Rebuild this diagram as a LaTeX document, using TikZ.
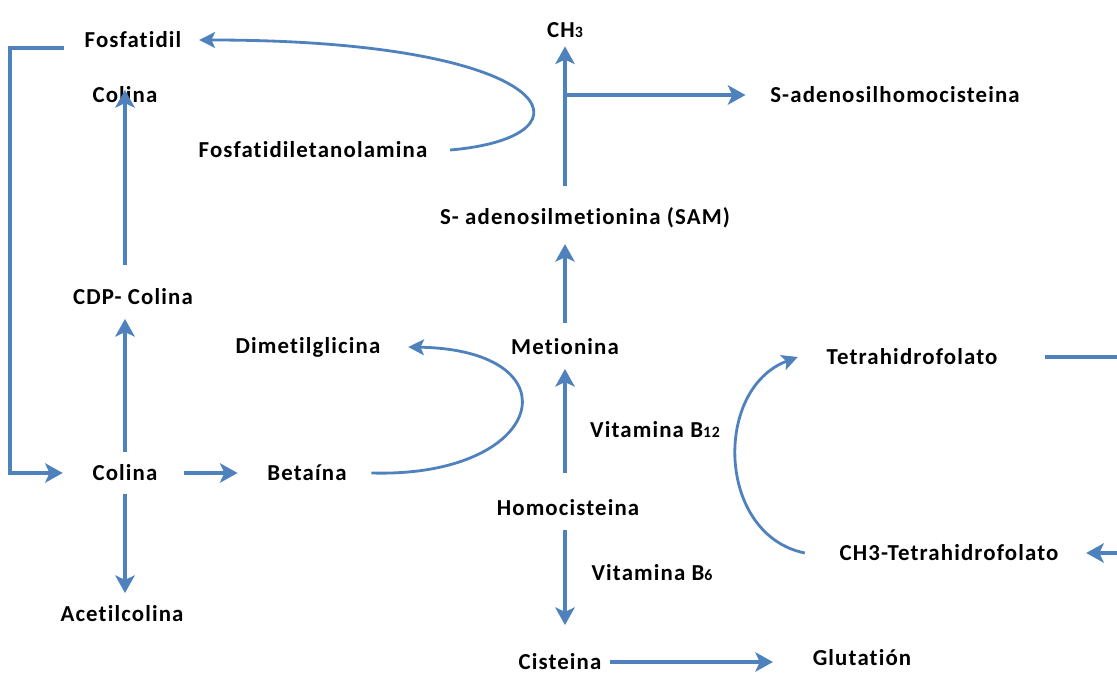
\documentclass[tikz,border=0pt]{standalone}
\usepackage{fontspec}
\setmainfont{Carlito}[LetterSpace=5, Ligatures=NoCommon]
\usetikzlibrary{arrows.meta}
\definecolor{flecha}{RGB}{79,129,189}
\newcommand{\peq}[1]{{\fontsize{9}{9}\selectfont #1}}

\begin{document}
\begin{tikzpicture}[x=0.02cm,y=-0.02cm,
  lbl/.style={font=\bfseries\fontsize{13}{15}\selectfont, inner sep=2pt},
  arr/.style={draw=flecha, line width=2.3pt, -{Stealth[length=10pt,width=11pt,inset=2.5pt]}},
  curva/.style={draw=flecha, line width=1.6pt, -{Stealth[length=9pt,width=9pt,inset=2pt]}}]
\useasboundingbox (0,0) rectangle (1117,675);

% izquierda
\node[lbl] (fosfatidil) at (133,40) {Fosfatidil};
\node[lbl] (colinaup) at (125,95) {Colina};
\node[lbl] (fosfetanol) at (313,150) {Fosfatidiletanolamina};
\node[lbl] (cdp) at (133,297) {CDP- Colina};
\node[lbl] (dmg) at (308,347) {Dimetilglicina};
\node[lbl] (colina) at (125,473) {Colina};
\node[lbl] (betaina) at (307,473) {Betaína};
\node[lbl] (acetil) at (122,614) {Acetilcolina};

% centro
\node[lbl] (chtres) at (565,30) {CH\peq{3}};
\node[lbl] (sah) at (895,95) {S-adenosilhomocisteina};
\node[lbl] (sam) at (585,218) {S- adenosilmetionina (SAM)};
\node[lbl] (met) at (565,347) {Metionina};
\node[lbl] (vitb12) at (655,430) {Vitamina B\peq{12}};
\node[lbl] (hcy) at (568,508) {Homocisteina};
\node[lbl] (vitb6) at (652,573) {Vitamina B\peq{6}};
\node[lbl] (cis) at (560,662) {Cisteina};
\node[lbl] (glut) at (862,658) {Glutatión};

% derecha
\node[lbl] (thf) at (912,357) {Tetrahidrofolato};
\node[lbl] (chthf) at (949,553) {CH3-Tetrahidrofolato};

\coordinate (esq) at (10,48);
\coordinate (borde) at (1117,0);

% flechas
\draw[arr, shorten <=0.34cm, shorten >=0.52cm] (esq -| fosfatidil.west) -- (esq) |- (colina.west);
\draw[arr, shorten <=0.18cm, shorten >=0.2cm] (colina.north) -- (colina.north |- cdp.south);
\draw[arr, shorten <=0.4cm, shorten >=-0.1cm] (colina.north |- cdp.north) -- (colinaup.center);
\draw[arr, shorten <=0.18cm, shorten >=0.18cm] (colina.south) -- (colina.south |- acetil.north);
\draw[arr, shorten <=0.46cm, shorten >=0.52cm] (colina.east) -- (betaina.west);
\draw[curva] ([xshift=0.42cm]betaina.east) .. controls +(175,5) and +(170,3) .. ([xshift=0.48cm]dmg.east);
\draw[curva] ([xshift=0.38cm]fosfetanol.east) .. controls +(152,-13) and +(362,0) .. ([xshift=0.28cm]fosfatidil.east);

\draw[arr, shorten <=0.46cm, shorten >=0.2cm] (hcy.north -| met.south) -- (met.south);
\draw[arr, shorten <=0.24cm, shorten >=0.24cm] (met.north) -- (met.north |- sam.south);
\draw[arr, shorten <=0.36cm, shorten >=0.1cm] (met.north |- sam.north) -- (chtres.south);
\draw[arr, shorten >=0.42cm] (met.north |- sah.west) -- (sah.west);
\draw[arr, shorten <=0.2cm, shorten >=0.5cm] (hcy.south -| met.south) -- (cis.north -| met.south);
\draw[arr, shorten <=0.1cm, shorten >=0.72cm] (cis.east) -- (glut.west |- cis.east);

\draw[curva] ([xshift=-0.62cm]chthf.west) .. controls +(-88,-18) and +(-85,32) .. ([xshift=-0.5cm]thf.west);
\draw[draw=flecha, line width=2.3pt, shorten <=0.88cm] (thf.east) -- (thf.east -| borde);
\draw[arr, shorten >=0.48cm] (chthf.east -| borde) -- (chthf.east);
\end{tikzpicture}
\end{document}
